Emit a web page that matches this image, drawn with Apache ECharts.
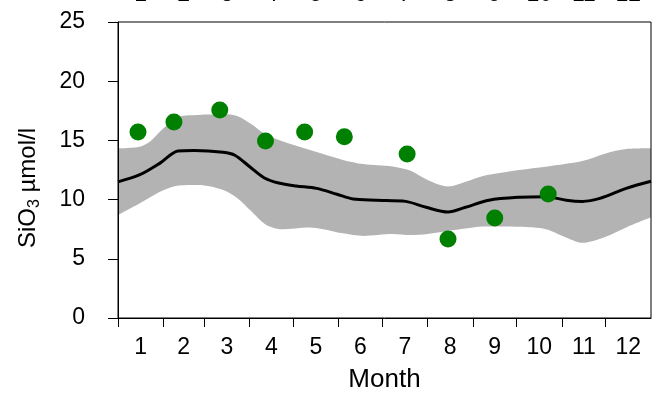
<!DOCTYPE html>
<html>
<head>
<meta charset="utf-8">
<script src="https://cdn.jsdelivr.net/npm/echarts@6/dist/echarts.min.js"></script>
<style>
html,body{margin:0;padding:0;background:#fff;}
#c{width:653px;height:393px;}
</style>
</head>
<body>
<div id="c"></div>
<script>
// Day-of-year axis with month boundaries
var monthStarts = [0, 31, 59, 90, 120, 151, 181, 212, 243, 273, 304, 334];
var monthMids = [15.5, 45, 74.5, 105, 135.5, 166, 196.5, 227.5, 258, 288.5, 319, 349.5];
var monthLabels = ['1','2','3','4','5','6','7','8','9','10','11','12'];

// Grey band (range)
var bandDays  = [0, 15, 22, 31, 42, 55, 72, 82, 91, 101, 112, 131, 154, 168, 188, 200, 212, 226, 238, 250, 275, 293, 306, 318, 334, 348, 365];
var bandUpper = [14.33, 14.47, 14.9, 16.0, 17.0, 17.15, 17.2, 17.05, 16.4, 15.5, 14.95, 14.2, 13.35, 13.0, 12.8, 12.45, 11.65, 11.1, 11.5, 12.0, 12.5, 12.78, 13.0, 13.25, 13.9, 14.27, 14.33];
var bandLower = [8.7, 9.69, 10.2, 10.8, 11.2, 11.23, 10.81, 10.1, 9.05, 7.9, 7.5, 7.65, 7.15, 6.93, 7.09, 7.0, 7.1, 7.35, 7.55, 7.72, 7.7, 7.5, 6.85, 6.36, 6.87, 7.65, 8.5];

// Mean curve
var meanDays   = [0, 15, 29, 41, 52, 72, 80, 90, 100, 110, 122, 136, 150, 161, 177, 197, 211, 226, 238, 254, 275, 293, 307, 318, 330, 348, 365];
var meanValues = [11.5, 12.1, 13.1, 14.1, 14.15, 14.0, 13.75, 12.8, 11.85, 11.4, 11.15, 10.95, 10.45, 10.05, 9.95, 9.85, 9.35, 8.95, 9.35, 9.95, 10.2, 10.25, 9.95, 9.85, 10.1, 10.95, 11.55];

// Observations
var obsDays   = [13.7, 38.3, 69.7, 101, 127.8, 155, 198, 226, 258, 294.6];
var obsValues = [15.7, 16.55, 17.57, 14.95, 15.7, 15.3, 13.85, 6.67, 8.45, 10.47];

function zip(a, b) { return a.map(function (v, i) { return [v, b[i]]; }); }

var FONT = 'Liberation Sans';
var labelFmt = function (v) { var i = monthMids.indexOf(v); return i >= 0 ? monthLabels[i] : ''; };
var chart = echarts.init(document.getElementById('c'), null, {renderer: 'canvas'});
chart.setOption({
  animation: false,
  backgroundColor: '#fff',
  textStyle: {fontFamily: FONT},
  grid: {left: 118, top: 22, right: 2, bottom: 75, outerBoundsMode: 'none', containLabel: false,
    show: true, borderColor: '#000', borderWidth: 1, backgroundColor: 'transparent'},
  xAxis: [{
    type: 'value', min: 0, max: 365, position: 'bottom',
    name: 'Month', nameLocation: 'middle', nameGap: 49,
    nameTextStyle: {fontFamily: FONT, fontSize: 26, color: '#000'},
    axisLine: {show: true, lineStyle: {color: '#000', width: 1}},
    axisTick: {show: true, length: 9, lineStyle: {color: '#000', width: 1}, customValues: monthStarts},
    axisLabel: {show: true, fontFamily: FONT, fontSize: 23, color: '#000', margin: 18,
      customValues: monthMids, formatter: labelFmt},
    splitLine: {show: false}
  }, {
    type: 'value', min: 0, max: 365, position: 'top',
    axisLine: {show: false}, axisTick: {show: false},
    axisLabel: {show: true, fontFamily: FONT, fontSize: 23, color: '#000', margin: 16,
      customValues: monthMids, formatter: labelFmt},
    splitLine: {show: false}
  }],
  yAxis: {
    type: 'value', min: 0, max: 25, interval: 5,
    name: '{a|SiO}{s|3}{a| µmol/l}', nameLocation: 'middle', nameGap: 75, nameRotate: 90,
    nameTextStyle: {
      padding: [0, 36, 0, 0],
      rich: {
        a: {fontFamily: FONT, fontSize: 24, color: '#000', lineHeight: 30},
        s: {fontFamily: FONT, fontSize: 16, color: '#000', lineHeight: 16, verticalAlign: 'bottom'}
      }
    },
    axisLine: {show: true, lineStyle: {color: '#000', width: 1}},
    axisTick: {show: true, length: 10, lineStyle: {color: '#000', width: 1}},
    axisLabel: {fontFamily: FONT, fontSize: 23, color: '#000', margin: 33},
    splitLine: {show: false}
  },
  series: [{
    type: 'line', data: zip(bandDays, bandUpper), smooth: 0.3, symbol: 'none',
    lineStyle: {width: 0, opacity: 0}, areaStyle: {color: '#b3b3b3', opacity: 1, origin: 'start'},
    silent: true, z: -2
  }, {
    type: 'line', data: zip(bandDays, bandLower), smooth: 0.3, symbol: 'none',
    lineStyle: {width: 0, opacity: 0}, areaStyle: {color: '#ffffff', opacity: 1, origin: 'start'},
    silent: true, z: -1
  }, {
    type: 'line', data: zip(meanDays, meanValues), smooth: 0.3, symbol: 'none',
    lineStyle: {color: '#000', width: 3}, z: 3
  }, {
    type: 'scatter', data: zip(obsDays, obsValues), symbol: 'circle', symbolSize: 17,
    itemStyle: {color: '#008000', opacity: 1}, z: 4
  }]
});
</script>
</body>
</html>
